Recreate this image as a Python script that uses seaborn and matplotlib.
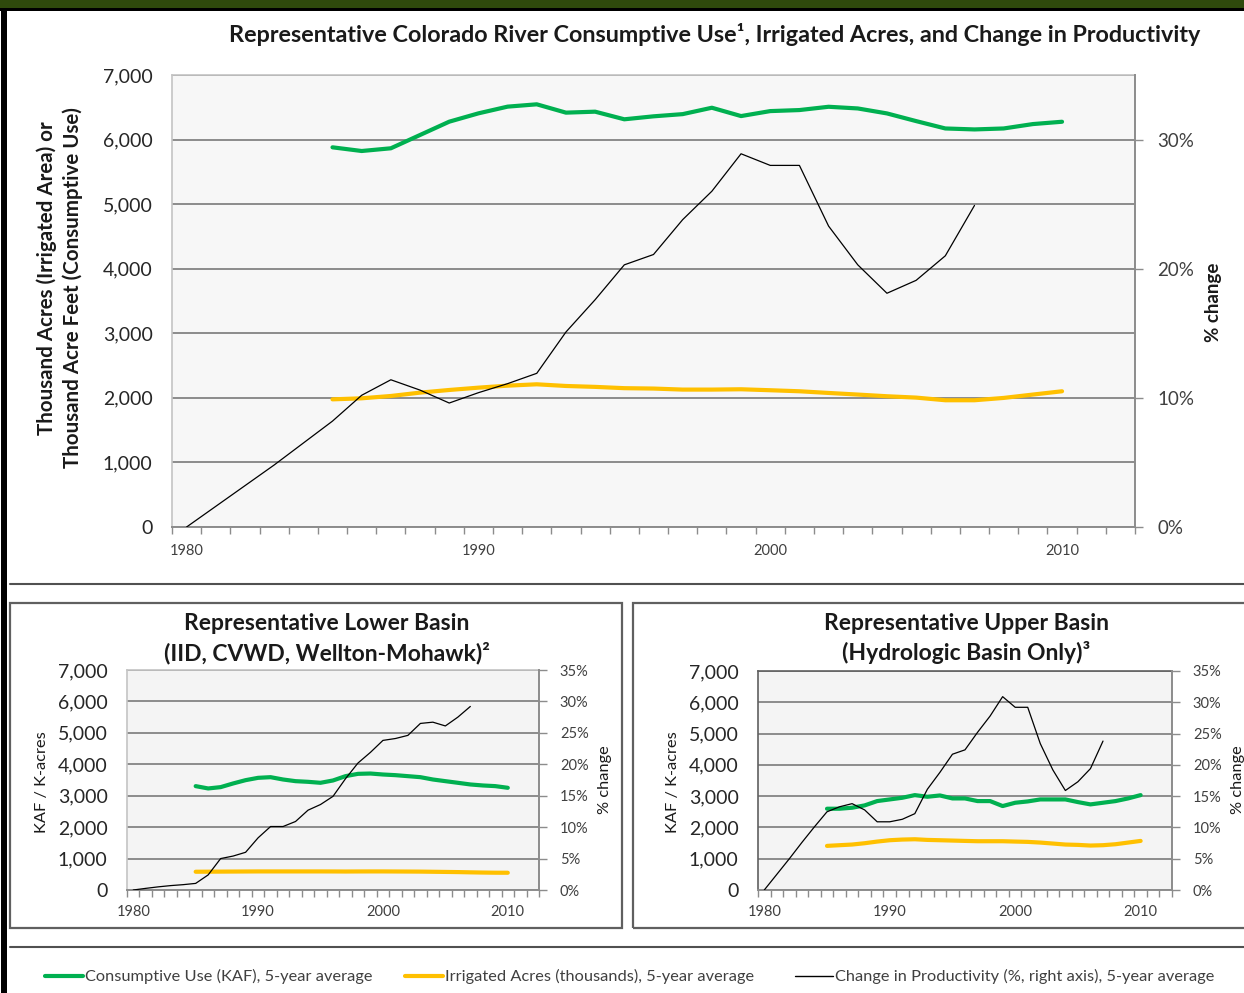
import numpy as np
import pandas as pd
import seaborn as sns
import matplotlib
matplotlib.use("Agg")
import matplotlib.pyplot as plt
from matplotlib.lines import Line2D
from matplotlib.patches import Rectangle
from matplotlib.ticker import FuncFormatter, FixedLocator

# ---------------- data ----------------
years_cu = list(range(1985, 2011))   # 5-year averages of use / acres
years_pc = list(range(1980, 2008))   # productivity change

main_cu = [5880, 5823, 5865, 6071, 6277, 6406, 6510, 6546, 6417, 6432, 6314, 6360, 6394,
           6493, 6364, 6441, 6457, 6508, 6482, 6405, 6286, 6172, 6157, 6172, 6240, 6276]
main_ia = [1977, 1993, 2029, 2081, 2122, 2158, 2189, 2210, 2184, 2170, 2150, 2144, 2128,
           2128, 2133, 2118, 2102, 2076, 2051, 2025, 2004, 1963, 1963, 1999, 2051, 2102]
main_pc = [0, 1.6, 3.2, 4.8, 6.5, 8.2, 10.2, 11.4, 10.6, 9.6, 10.4, 11.1, 11.9, 15.1,
           17.6, 20.3, 21.1, 23.8, 26.0, 28.9, 28.0, 28.0, 23.3, 20.3, 18.1, 19.1, 21.0, 24.9]

lower_cu = [3305, 3231, 3273, 3390, 3495, 3569, 3590, 3516, 3463, 3442, 3411, 3485, 3622,
            3696, 3706, 3675, 3654, 3622, 3590, 3516, 3463, 3411, 3358, 3326, 3305, 3252]
lower_ia = [581, 583, 585, 587, 589, 591, 591, 591, 591, 591, 591, 590, 588,
            590, 591, 591, 589, 587, 585, 580, 575, 570, 562, 555, 550, 549]
lower_pc = [0, 0.26, 0.5, 0.7, 0.85, 1.05, 2.4, 5.0, 5.4, 6.0, 8.3, 10.1, 10.1, 10.9,
            12.7, 13.6, 14.9, 17.7, 20.2, 21.9, 23.8, 24.1, 24.6, 26.5, 26.7, 26.1, 27.5, 29.2]

upper_cu = [2598, 2598, 2630, 2704, 2842, 2895, 2948, 3033, 2980, 3022, 2927, 2927, 2842,
            2842, 2683, 2789, 2831, 2895, 2895, 2895, 2810, 2736, 2789, 2842, 2927, 3033]
upper_ia = [1410, 1432, 1453, 1495, 1548, 1591, 1612, 1622, 1601, 1591, 1580, 1569, 1559,
            1559, 1559, 1548, 1538, 1516, 1485, 1453, 1442, 1421, 1432, 1463, 1516, 1569]
upper_pc = [0, 2.5, 5.0, 7.6, 10.1, 12.5, 13.3, 13.8, 12.8, 10.9, 10.9, 11.3, 12.2, 16.1,
            18.8, 21.7, 22.4, 25.2, 27.8, 30.9, 29.2, 29.2, 23.4, 19.2, 15.9, 17.3, 19.4, 23.8]

x_labels = [1980, 1990, 2000, 2010]
legend_labels = ["Consumptive Use (KAF), 5-year average",
                 "Irrigated Acres (thousands), 5-year average",
                 "Change in Productivity (%, right axis), 5-year average"]

# ---------------- style ----------------
GREEN = "#00b050"
YELLOW = "#ffc000"
GRID = "#8c8c8c"
TXT = "#262626"

sns.set_theme(style="white")
plt.rcParams["font.family"] = ["Lato", "DejaVu Sans"]

W, H = 1244, 993
fig = plt.figure(figsize=(W / 100, H / 100), dpi=100)


def rect(l, t, r, b):
    return [l / W, 1 - b / H, (r - l) / W, (b - t) / H]


def fx(x):
    return x / W


def fy(y):
    return 1 - y / H


def add_rect(l, t, r, b, **kw):
    fig.add_artist(Rectangle((fx(l), fy(b)), (r - l) / W, (b - t) / H,
                             transform=fig.transFigure, **kw))


def add_line(x0, y0, x1, y1, **kw):
    fig.add_artist(Line2D([fx(x0), fx(x1)], [fy(y0), fy(y1)],
                          transform=fig.transFigure, **kw))


def panel(px, cu, ia, pc, rticks, face, border, left_size, right_size, x_size,
          lpad, rpad, xpad, lw_main):
    ax = fig.add_axes(rect(*px))
    ax.set_facecolor(face)
    df_cu = pd.DataFrame({"year": years_cu, "value": cu})
    df_ia = pd.DataFrame({"year": years_cu, "value": ia})
    df_pc = pd.DataFrame({"year": years_pc, "value": pc})
    sns.lineplot(data=df_ia, x="year", y="value", ax=ax, color=YELLOW, lw=lw_main, zorder=3)
    sns.lineplot(data=df_cu, x="year", y="value", ax=ax, color=GREEN, lw=lw_main, zorder=4)
    ax.set_xlim(1979.5, 2012.5)
    ax.set_ylim(0, 7000)
    ax.set_yticks(range(0, 7001, 1000))
    ax.yaxis.set_major_formatter(FuncFormatter(lambda v, p: f"{int(v):,}"))
    ax.grid(axis="y", color=GRID, lw=1.4)
    ax.grid(axis="x", visible=False)
    ax.set_axisbelow(True)
    ax.set_xticks(x_labels)
    ax.xaxis.set_minor_locator(FixedLocator(np.arange(1979.5, 2013, 1.0)))
    ax.tick_params(axis="x", which="major", length=0, pad=xpad, labelsize=x_size, labelcolor="#404040")
    ax.tick_params(axis="x", which="minor", length=5, width=1, color=GRID, direction="out", bottom=True)
    ax.tick_params(axis="y", length=0, pad=lpad, labelsize=left_size, labelcolor=TXT)
    ax.set_xlabel("")
    ax.set_ylabel("")
    for s in ["top", "left"]:
        ax.spines[s].set_color(border)
        ax.spines[s].set_linewidth(1.2)
    ax.spines["bottom"].set_color(GRID)
    ax.spines["bottom"].set_linewidth(1.4)
    ax.spines["right"].set_visible(False)

    ax2 = ax.twinx()
    sns.lineplot(data=df_pc, x="year", y="value", ax=ax2, color="black", lw=0.9)
    ax2.set_ylim(0, 35)
    ax2.set_xlim(1979.5, 2012.5)
    ax2.set_yticks(rticks)
    ax2.yaxis.set_major_formatter(FuncFormatter(lambda v, p: f"{int(v)}%"))
    ax2.tick_params(axis="y", length=6, width=1, color=GRID, direction="out", pad=rpad,
                    labelsize=right_size, labelcolor="#404040")
    ax2.set_ylabel("")
    ax2.set_xlabel("")
    ax2.grid(False)
    for s in ["top", "left", "bottom"]:
        ax2.spines[s].set_visible(False)
    ax2.spines["right"].set_color(GRID)
    ax2.spines["right"].set_linewidth(1.4)
    return ax, ax2


# ---------------- frame decorations ----------------
add_rect(0, 0, W, 8, facecolor="#2f4a0c", edgecolor="none")
add_rect(0, 8, W, 11, facecolor="black", edgecolor="none")
add_rect(1, 8, 7, H, facecolor="black", edgecolor="none")
add_line(10, 584, W, 584, color="#505050", lw=1.5)
add_line(10, 947, W, 947, color="#505050", lw=1.5)
# boxes around the two basin charts
add_rect(10, 603, 622, 928, facecolor="none", edgecolor="#606060", lw=1.6)
add_rect(633, 603, W + 5, 928, facecolor="none", edgecolor="#606060", lw=1.6)

# ---------------- main panel ----------------
panel((172, 75, 1135, 527), main_cu, main_ia, main_pc, [0, 10, 20, 30],
      "#f7f7f7", "#c4c4c4", 14, 13.5, 10.5, 14, 10, 12, 3.0)
fig.text(fx(715), fy(35), "Representative Colorado River Consumptive Use¹, Irrigated Acres, and Change in Productivity",
         ha="center", va="center", fontsize=16.8, fontweight="bold", color="#1a1a1a")
fig.text(fx(47), fy(278), "Thousand Acres (Irrigated Area) or", rotation=90,
         ha="center", va="center", fontsize=14.8, fontweight="bold", color="#1a1a1a")
fig.text(fx(73), fy(288), "Thousand Acre Feet (Consumptive Use)", rotation=90,
         ha="center", va="center", fontsize=14.8, fontweight="bold", color="#1a1a1a")
fig.text(fx(1213), fy(302), "% change", rotation=90,
         ha="center", va="center", fontsize=13.5, fontweight="bold", color="#1a1a1a")

# ---------------- lower basin ----------------
panel((127, 670, 539, 890), lower_cu, lower_ia, lower_pc, list(range(0, 36, 5)),
      "#f4f4f4", "#c4c4c4", 14, 10.5, 10.5, 14, 9, 11, 3.0)
fig.text(fx(327), fy(624), "Representative Lower Basin", ha="center", va="center",
         fontsize=16.5, fontweight="bold", color="#1a1a1a")
fig.text(fx(327), fy(653), "(IID, CVWD, Wellton-Mohawk)²", ha="center", va="center",
         fontsize=16.5, fontweight="bold", color="#1a1a1a")
fig.text(fx(42), fy(782), "KAF / K-acres", rotation=90, ha="center", va="center",
         fontsize=11.8, color="#1a1a1a")
fig.text(fx(605), fy(780), "% change", rotation=90, ha="center", va="center",
         fontsize=11.8, color="#1a1a1a")

# ---------------- upper basin ----------------
panel((758, 671, 1172, 890), upper_cu, upper_ia, upper_pc, list(range(0, 36, 5)),
      "#f4f4f4", "#606060", 14, 10.5, 10.5, 14, 9, 11, 3.0)
fig.text(fx(966), fy(624), "Representative Upper Basin", ha="center", va="center",
         fontsize=16.5, fontweight="bold", color="#1a1a1a")
fig.text(fx(966), fy(653), "(Hydrologic Basin Only)³", ha="center", va="center",
         fontsize=16.5, fontweight="bold", color="#1a1a1a")
fig.text(fx(673), fy(782), "KAF / K-acres", rotation=90, ha="center", va="center",
         fontsize=11.8, color="#1a1a1a")
fig.text(fx(1238), fy(780), "% change", rotation=90, ha="center", va="center",
         fontsize=11.8, color="#1a1a1a")

# ---------------- legend ----------------
leg_specs = [(45, GREEN, 3.0), (405, YELLOW, 3.0), (795, "black", 1.0)]
for (x0, col, lw), lab in zip(leg_specs, legend_labels):
    add_line(x0, 976, x0 + 38, 976, color=col, lw=lw)
    fig.text(fx(x0 + 40), fy(976), lab, ha="left", va="center", fontsize=11.8, color="#404040")

fig.savefig("out.png", dpi=100, facecolor="white")
